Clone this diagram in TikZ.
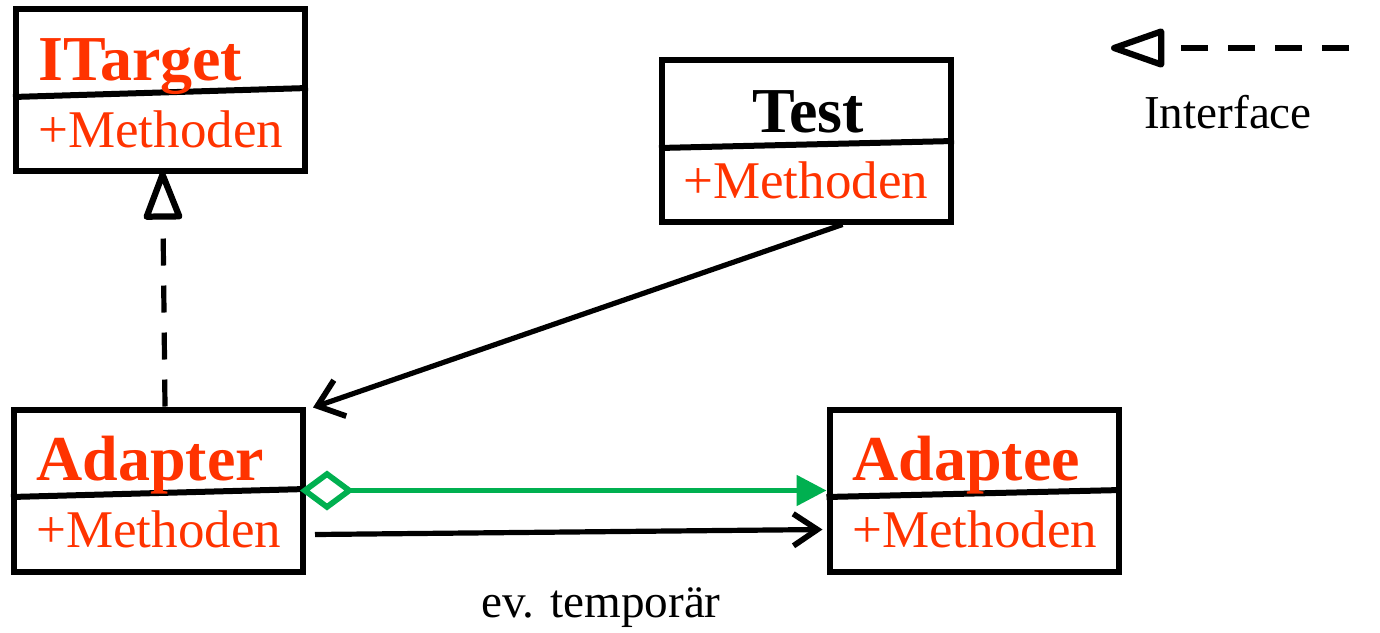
\documentclass[tikz,border=0pt]{standalone}
\usepackage{fontspec}
\setmainfont{Liberation Serif}
\usetikzlibrary{arrows.meta}
\definecolor{umlred}{HTML}{FF3300}
\definecolor{umlgreen}{HTML}{00B050}
\tikzset{
  umlbox/.style={draw=black, line width=3pt, fill=white, minimum width=144.5pt, minimum height=81pt, inner sep=0pt},
  divider/.style={line width=3pt},
  titletxt/.style={anchor=base west, inner sep=0pt, font=\fontsize{32}{32}\selectfont\bfseries, text=umlred},
  methtxt/.style={anchor=base west, inner sep=0pt, font=\fontsize{26.5}{26.5}\selectfont, text=umlred},
  plaintxt/.style={anchor=base, inner sep=0pt, font=\fontsize{23.6}{23.6}\selectfont, text=black},
  conn/.style={line width=2.6pt},
  dashedconn/.style={line width=2.6pt, dash pattern=on 13.5pt off 10pt},
  opentri/.style={-{Triangle[open, length=#1, width=20pt, line width=0pt 1.2, round]}},
}
\begin{document}
\begin{tikzpicture}[x=0.5pt, y=-0.5pt]
\useasboundingbox (0,0) rectangle (1380,632);
% boxes
\node[umlbox] (itarget) at (160.5,89.5) {};
\node[umlbox] (test) at (806.5,140.5) {};
\node[umlbox] (adapter) at (158.5,490.5) {};
\node[umlbox] (adaptee) at (974,490.5) {};
% dividers
\draw[divider] ([yshift=-3.75pt]itarget.west) -- ([yshift=0.75pt]itarget.east);
\draw[divider] ([yshift=-3.75pt]test.west) -- ([yshift=-0.25pt]test.east);
\draw[divider] ([yshift=-3.25pt]adapter.west) -- ([yshift=0.75pt]adapter.east);
\draw[divider] ([yshift=-3.25pt]adaptee.west) -- ([yshift=0.25pt]adaptee.east);
% texts
\node[titletxt] (itargetT) at (38,80) {ITarget};
\node[methtxt] (itargetM) at (38,147) {+Methoden};
\node[titletxt, anchor=base, text=black] (testT) at (808,132) {Test};
\node[methtxt] (testM) at (683,198) {+Methoden};
\node[titletxt] (adapterT) at (36,480) {Adapter};
\node[methtxt] (adapterM) at (36,547) {+Methoden};
\node[titletxt] (adapteeT) at (852,480) {Adaptee};
\node[methtxt] (adapteeM) at (852,547) {+Methoden};
\node[plaintxt] (iface) at (1228,128) {Interface};
\node[plaintxt] (temp) at (601,617) {ev. temporär};
% legend
\coordinate (legA) at (1349,48);
\coordinate (legB) at (1111,48);
\draw[dashedconn, opentri=30pt] (legA) -- (legB);
% connectors
\draw[dashedconn, opentri=27pt]
  ([xshift=3.25pt]adapter.north) -- ([xshift=1pt, yshift=1pt]itarget.south);
\draw[conn, -{Straight Barb[length=12pt, width=19pt, line width=0pt 1.1]}]
  ([xshift=18pt]test.south) -- ([xshift=3.5pt, yshift=-0.5pt]adapter.north east);
\draw[conn, umlgreen, {Diamond[open, length=27pt, width=20pt, line width=0pt 1.1]}-{Triangle[length=15pt, width=15pt]}]
  ([xshift=-3pt]adapter.east) -- (adaptee.west);
\draw[conn, -{Straight Barb[length=12pt, width=16pt, line width=0pt 1.1]}]
  ([shift={(4.5pt,-22pt)}]adapter.east) -- ([shift={(-2pt,-19.5pt)}]adaptee.west);
\end{tikzpicture}
\end{document}
